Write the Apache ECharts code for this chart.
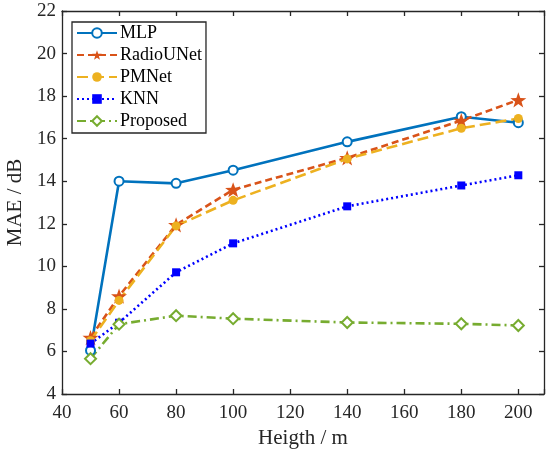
<!DOCTYPE html>
<html>
<head>
<meta charset="utf-8">
<script src="https://cdn.jsdelivr.net/npm/echarts@6/dist/echarts.min.js"></script>
<style>
html,body{margin:0;padding:0;background:#fff;}
#main{width:546px;height:450px;}
</style>
</head>
<body>
<div id="main"></div>
<script>
// heights (m)
var heights = [50, 60, 80, 100, 140, 180, 200];
var mlp = [6.05, 14.0, 13.9, 14.52, 15.85, 17.03, 16.75];
var radioUNet = [6.65, 8.6, 11.95, 13.6, 15.1, 16.85, 17.82];
var pmNet = [6.5, 8.4, 11.9, 13.1, 15.05, 16.49, 16.95];
var knn = [6.37, 7.35, 9.72, 11.08, 12.82, 13.8, 14.28];
var proposed = [5.66, 7.28, 7.68, 7.54, 7.36, 7.3, 7.22];

var starPath = 'path://M50 0 L61.8 33.8 L97.6 34.5 L69 56.2 L79.4 90.5 L50 70 L20.6 90.5 L31 56.2 L2.4 34.5 L38.2 33.8 Z';
var font = 'Liberation Serif';
var ink = '#262626';

function pairs(ys){
	var out = [];
	for(var i=0;i<heights.length;i++){ out.push([heights[i], ys[i]]); }
	return out;
}

function line(name, ys, color, dash, symbol, size, bw){
	return {
		name: name,
		type: 'line',
		data: pairs(ys),
		symbol: symbol,
		symbolSize: size,
		symbolKeepAspect: true,
		showAllSymbol: true,
		lineStyle: {color: color, width: 2.6, type: dash},
		itemStyle: {color: color, borderColor: color, borderWidth: bw},
		emphasis: {disabled: true},
		z: 3
	};
}

var myChart = echarts.init(document.getElementById('main'));

var axisCommon = {
	type: 'value',
	axisLine: {show: true, onZero: false, lineStyle: {color: ink, width: 1.3}},
	axisTick: {show: true, inside: true, length: 5, lineStyle: {color: ink, width: 1.3}},
	splitLine: {show: false}
};

myChart.setOption({
	animation: false,
	backgroundColor: '#fff',
	grid: {left: 62, right: 2, top: 11, bottom: 56, containLabel: false, outerBoundsMode: 'none'},
	legend: {
		orient: 'vertical',
		left: 72,
		top: 22,
		itemWidth: 40,
		itemHeight: 12,
		itemGap: 4,
		padding: [2, 4, 3, 4],
		borderColor: ink,
		borderWidth: 1.3,
		backgroundColor: '#fff',
		textStyle: {fontFamily: font, fontSize: 18, color: '#000', padding: [0, 0, 0, -2]},
		data: ['MLP', 'RadioUNet', 'PMNet', 'KNN', 'Proposed']
	},
	xAxis: [
		Object.assign({}, axisCommon, {
			min: 40, max: 209, interval: 20,
			position: 'bottom',
			name: 'Heigth / m',
			nameLocation: 'middle',
			nameGap: 34,
			nameTextStyle: {fontFamily: font, fontSize: 21, color: ink},
			axisLabel: {fontFamily: font, fontSize: 19, color: ink, margin: 10,
				formatter: function(v){ return v > 200 ? '' : v; }}
		}),
		Object.assign({}, axisCommon, {
			min: 40, max: 209, interval: 20,
			position: 'top',
			axisLabel: {show: false}
		})
	],
	yAxis: [
		Object.assign({}, axisCommon, {
			min: 4, max: 22, interval: 2,
			position: 'left',
			name: 'MAE / dB',
			nameLocation: 'middle',
			nameGap: 26,
			nameTextStyle: {fontFamily: font, fontSize: 21, color: ink},
			axisLabel: {fontFamily: font, fontSize: 19, color: ink, margin: 6}
		}),
		Object.assign({}, axisCommon, {
			min: 4, max: 22, interval: 2,
			position: 'right',
			axisLabel: {show: false}
		})
	],
	series: [
		line('MLP', mlp, '#0072BD', 'solid', 'emptyCircle', 9, 2),
		line('RadioUNet', radioUNet, '#D95319', [7, 4], starPath, 16, 0),
		line('PMNet', pmNet, '#EDB120', [11, 5], 'circle', 9, 0),
		line('KNN', knn, '#0000FF', [2, 3], 'rect', 8, 0),
		line('Proposed', proposed, '#77AC30', [9, 4, 2, 4], 'emptyDiamond', 11, 2)
	]
});
</script>
</body>
</html>
